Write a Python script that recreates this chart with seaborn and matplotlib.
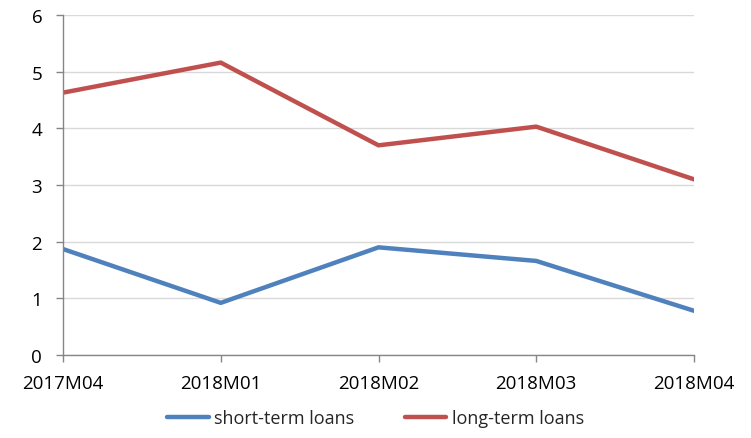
import matplotlib
matplotlib.use("Agg")
import matplotlib.pyplot as plt
import seaborn as sns
import pandas as pd

periods = ["2017M04", "2018M01", "2018M02", "2018M03", "2018M04"]
short_term = [1.87, 0.92, 1.90, 1.66, 0.78]
long_term = [4.63, 5.16, 3.70, 4.03, 3.10]
series_names = ["short-term loans", "long-term loans"]
y_ticks = [0, 1, 2, 3, 4, 5, 6]

sns.set_theme(style="white")
plt.rcParams["font.family"] = ["Open Sans", "DejaVu Sans"]

df = pd.DataFrame({
    "period": periods * 2,
    "value": short_term + long_term,
    "series": [series_names[0]] * len(periods) + [series_names[1]] * len(periods),
})

fig = plt.figure(figsize=(7.51, 4.39), dpi=100)
ax = fig.add_axes([63 / 751, 1 - 356 / 439, (694 - 63) / 751, (356 - 16) / 439])

sns.lineplot(data=df, x="period", y="value", hue="series",
             palette=["#4F81BD", "#C0504D"], linewidth=3.2, ax=ax,
             sort=False, legend=True)

ax.set_xlim(0, len(periods) - 1)
ax.set_ylim(0, 6)
ax.set_yticks(y_ticks)
ax.set_xticks(range(len(periods)))
ax.set_xticklabels(periods)
ax.set_xlabel("")
ax.set_ylabel("")
ax.yaxis.grid(True, color="#D9D9D9", linewidth=1.0)
ax.set_axisbelow(True)

for side in ["top", "right"]:
    ax.spines[side].set_visible(False)
for side in ["left", "bottom"]:
    ax.spines[side].set_color("#868686")
    ax.spines[side].set_linewidth(1.0)

ax.tick_params(axis="both", which="major", direction="out", length=5,
               width=1.0, color="#868686", labelsize=13.5, labelcolor="black",
               left=True, bottom=True)
ax.tick_params(axis="x", pad=9)
ax.tick_params(axis="y", pad=10)

# Move the series legend below the plot, centred on the figure
handles, labels = ax.get_legend_handles_labels()
ax.get_legend().remove()
fig.legend(handles, labels, loc="center", bbox_to_anchor=(0.5, 1 - 419 / 439),
           ncol=2, frameon=False, fontsize=13, handlelength=2.3,
           handletextpad=0.3, columnspacing=2.8)

fig.savefig("out.png", dpi=100, facecolor="white")
